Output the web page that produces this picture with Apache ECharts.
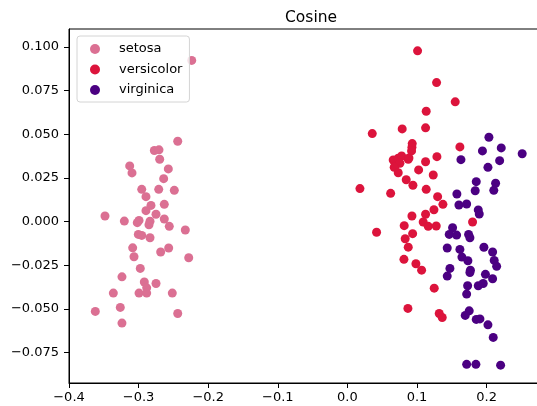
<!DOCTYPE html>
<html>
<head>
<meta charset="utf-8">
<script src="https://cdn.jsdelivr.net/npm/echarts@6/dist/echarts.min.js"></script>
<style>
html,body{margin:0;padding:0;background:#fff;}
#chart{width:537px;height:406px;}
</style>
</head>
<body>
<div id="chart"></div>
<script>
const seriesNames = ['setosa', 'versicolor', 'virginica'];
const seriesColors = ['#DB7093', '#DC143C', '#4B0082'];

const setosaX = [-0.2237,-0.2438,-0.2774,-0.2707,-0.2697,-0.3128,-0.3095,-0.2573,-0.2640,-0.2955,-0.2711,-0.2487,-0.2894,-0.2822,-0.2631,-0.2894,-0.2750,-0.3483,-0.3205,-0.2994,-0.3019,-0.2836,-0.2851,-0.2631,-0.2559,-0.2329,-0.3004,-0.2955,-0.2836,-0.3085,-0.3066,-0.2568,-0.2683,-0.2280,-0.2976,-0.3239,-0.2918,-0.2750,-0.2884,-0.2994,-0.2884,-0.3363,-0.2516,-0.3263,-0.3622,-0.2438,-0.3239];
const setosaY = [0.0923,0.0460,0.0407,0.0411,0.0357,0.0319,0.0279,0.0302,0.0246,0.0185,0.0185,0.0179,0.0143,0.0093,0.0099,0.0063,0.0042,0.0032,0.0003,0.0007,-0.0006,0.0002,-0.0018,0.0015,-0.0027,-0.0048,-0.0073,-0.0079,-0.0092,-0.0150,-0.0201,-0.0151,-0.0174,-0.0207,-0.0268,-0.0316,-0.0346,-0.0354,-0.0379,-0.0409,-0.0409,-0.0409,-0.0409,-0.0491,-0.0514,-0.0526,-0.0581];

const versicolorX = [0.1008,0.1281,0.1549,0.1132,0.0787,0.1123,0.0357,0.1616,0.0931,0.0927,0.0922,0.0874,0.0658,0.0730,0.0779,0.0884,0.0682,0.0754,0.0672,0.0730,0.1286,0.1123,0.1023,0.1233,0.0845,0.0941,0.1132,0.0180,0.0621,0.1296,0.1372,0.1243,0.0927,0.1123,0.1089,0.1161,0.1276,0.0816,0.0937,0.0830,0.0874,0.0419,0.0812,0.0984,0.1066,0.1798,0.1247,0.0869,0.1319,0.1362];
const versicolorY = [0.0978,0.0796,0.0686,0.0632,0.0531,0.0537,0.0504,0.0428,0.0447,0.0426,0.0405,0.0357,0.0353,0.0363,0.0376,0.0365,0.0315,0.0334,0.0311,0.0280,0.0372,0.0343,0.0296,0.0267,0.0240,0.0208,0.0185,0.0189,0.0162,0.0143,0.0099,0.0068,0.0032,0.0042,-0.0002,-0.0027,-0.0025,-0.0023,-0.0069,-0.0098,-0.0146,-0.0061,-0.0216,-0.0241,-0.0278,-0.0002,-0.0381,-0.0497,-0.0526,-0.0549];

const virginicaX = [0.2033,0.2210,0.1940,0.2511,0.1631,0.2187,0.2019,0.1851,0.2129,0.1836,0.2103,0.1573,0.1602,0.1713,0.1880,0.1894,0.1511,0.1463,0.1569,0.1741,0.1760,0.1434,0.1616,0.1645,0.1731,0.1961,0.2086,0.2109,0.2144,0.1473,0.1434,0.1767,0.1760,0.1983,0.2086,0.1951,0.1880,0.1727,0.1713,0.1750,0.1693,0.1851,0.1904,0.2019,0.2095,0.1713,0.1846,0.2201];
const virginicaY = [0.0483,0.0422,0.0405,0.0389,0.0355,0.0349,0.0311,0.0229,0.0220,0.0177,0.0179,0.0158,0.0095,0.0101,0.0067,0.0044,-0.0035,-0.0073,-0.0077,-0.0073,-0.0092,-0.0151,-0.0159,-0.0203,-0.0224,-0.0147,-0.0174,-0.0222,-0.0256,-0.0268,-0.0312,-0.0278,-0.0291,-0.0302,-0.0327,-0.0354,-0.0367,-0.0367,-0.0415,-0.0511,-0.0537,-0.0560,-0.0557,-0.0591,-0.0663,-0.0817,-0.0817,-0.0822];

const xTicks = [-0.4,-0.3,-0.2,-0.1,0.0,0.1,0.2];
const yTicks = [-0.075,-0.050,-0.025,0.000,0.025,0.050,0.075,0.100];

function zip(xs, ys){ return xs.map((x,i)=>[x, ys[i]]); }
const allX = [setosaX, versicolorX, virginicaX];
const allY = [setosaY, versicolorY, virginicaY];

function fmt(v, d){ return v.toFixed(d).replace('-', '\u2212'); }

const FONT = 'DejaVu Sans';
const chart = echarts.init(document.getElementById('chart'), null, {renderer:'canvas'});
chart.setOption({
  animation: false,
  backgroundColor: '#fff',
  title: {
    text: 'Cosine',
    left: 280,
    top: 5,
    textStyle: {fontFamily: FONT, fontSize: 15.5, fontWeight: 'normal', color: '#000'}
  },
  grid: {
    left: 69, right: -6, top: 29, bottom: 23,
    containLabel: false,
    outerBoundsMode: 'none',
    show: true, borderColor: '#000', borderWidth: 1, backgroundColor: 'transparent'
  },
  legend: {
    data: seriesNames,
    orient: 'vertical',
    left: 77, top: 36,
    padding: [6, 7, 5, 13],
    itemWidth: 20, itemHeight: 10, itemGap: 6.5,
    icon: 'circle',
    backgroundColor: 'rgba(255,255,255,0.8)',
    borderColor: '#d4d4d4', borderWidth: 1, borderRadius: 3,
    textStyle: {fontFamily: FONT, fontSize: 13, color: '#000', lineHeight: 14, padding: [0,0,0,9]}
  },
  xAxis: {
    type: 'value',
    min: -0.4, max: 0.281,
    splitLine: {show: false},
    axisLine: {show: true, onZero: false, lineStyle: {color: '#000', width: 1}},
    axisTick: {show: true, inside: false, length: 5, lineStyle: {color: '#000'}, customValues: xTicks},
    axisLabel: {show: true, margin: 8, fontFamily: FONT, fontSize: 13, color: '#000', customValues: xTicks,
      showMinLabel: true, showMaxLabel: true, hideOverlap: false,
      formatter: v => fmt(v, 1)}
  },
  yAxis: {
    type: 'value',
    min: -0.0924, max: 0.1103,
    splitLine: {show: false},
    axisLine: {show: true, onZero: false, lineStyle: {color: '#000', width: 1}},
    axisTick: {show: true, inside: false, length: 5, lineStyle: {color: '#000'}, customValues: yTicks},
    axisLabel: {show: true, margin: 10, fontFamily: FONT, fontSize: 13, color: '#000', customValues: yTicks,
      showMinLabel: true, showMaxLabel: true, hideOverlap: false,
      formatter: v => fmt(v, 3)}
  },
  series: seriesNames.map((name, i) => ({
    name: name,
    type: 'scatter',
    symbol: 'circle',
    symbolSize: 9,
    itemStyle: {color: seriesColors[i], opacity: 1},
    emphasis: {disabled: true},
    data: zip(allX[i], allY[i])
  }))
});
</script>
</body>
</html>
